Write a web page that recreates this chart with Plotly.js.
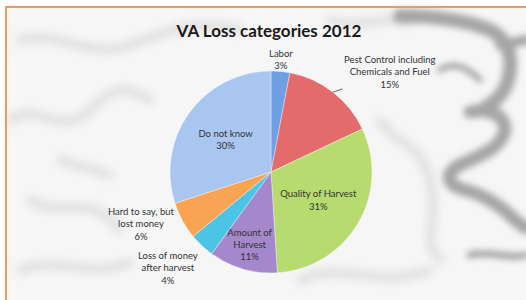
<!DOCTYPE html>
<html>
<head>
<meta charset="utf-8">
<script src="https://cdn.plot.ly/plotly-3.0.1.min.js"></script>
<style>html,body{margin:0;padding:0;background:#fff;}#chart{width:526px;height:300px;}</style>
</head>
<body>
<div id="chart"></div>
<script>
// Data (clockwise from 12 o'clock)
const categories = [
  "Labor",
  "Pest Control including<br>Chemicals and Fuel",
  "Quality of Harvest",
  "Amount of<br>Harvest",
  "Loss of money<br>after harvest",
  "Hard to say, but<br>lost money",
  "Do not know"
];
const shares = [3, 15, 31, 11, 4, 6, 30];
const sliceColors = ["#6FA0E6", "#E36B6C", "#B7DB6E", "#A488CB", "#4CC4E6", "#F8A453", "#A9C6F0"];
const labelInside = [false, false, true, true, false, false, true];
const chartTitle = "VA Loss categories 2012";

// Label layout (styling): pixel offset of each outside label from its slice's rim midpoint
const outsideOffsets = { 0: [0, -12], 1: [57, -20], 4: [-34, 22], 5: [-41, 3] };
const leaderLine = { 1: true };

// Background texture (decoration only)
const bgSvg = `<svg xmlns="http://www.w3.org/2000/svg" width="526" height="300" viewBox="0 0 526 300">
<defs><filter id="b" x="-20%" y="-20%" width="140%" height="140%"><feGaussianBlur stdDeviation="3"/></filter>
<filter id="b2" x="-20%" y="-20%" width="140%" height="140%"><feGaussianBlur stdDeviation="5"/></filter></defs>
<rect x="6" y="7" width="520" height="293" fill="#f6f6f6"/>
<g filter="url(#b2)" fill="none" stroke="#d9d9d9" stroke-width="7" stroke-linecap="round">
<path d="M20 40 C60 30 90 60 130 45 S190 20 240 30"/>
<path d="M10 120 C40 100 60 140 90 110 S130 90 150 100"/>
<path d="M30 200 C60 220 90 190 120 230"/>
<path d="M300 280 C340 260 380 290 430 270"/>
<path d="M380 120 C400 150 420 140 430 180 S420 240 440 260"/>
<path d="M60 160 L110 175"/>
<path d="M330 20 C360 30 380 15 410 22"/>
<path d="M20 270 C60 255 90 280 130 262"/>
</g>
<g filter="url(#b)" fill="none" stroke="#a6a6a6" stroke-linecap="round" stroke-linejoin="round">
<path stroke-width="14" d="M400 16 C440 16 470 22 490 30 C505 38 512 50 510 70 C508 90 498 100 485 108"/>
<path stroke-width="10" d="M500 45 L526 40"/>
<path stroke-width="13" d="M470 112 C490 108 505 115 505 130 C500 150 480 155 460 165 C445 172 445 185 465 190 C485 195 500 205 515 220 L526 228"/>
<path stroke-width="6" d="M440 70 C455 60 470 70 480 80"/>
<path stroke-width="7" d="M470 255 C490 250 510 260 526 255"/>
</g>
<path d="M6 300 L6 7 L526 7" fill="none" stroke="#F39A52" stroke-width="2"/>
</svg>`;
const bgUri = "data:image/svg+xml;charset=utf-8," + encodeURIComponent(bgSvg);

const W = 526, H = 300;
const cx = 271, cy = 172, r = 101;
const fontFam = "Lato, 'Open Sans', sans-serif";
const total = shares.reduce((a, b) => a + b, 0);

const trace = {
  type: "pie",
  labels: categories,
  values: shares,
  sort: false,
  direction: "clockwise",
  rotation: 0,
  marker: { colors: sliceColors, line: { color: "rgba(255,255,255,0.6)", width: 0.6 } },
  texttemplate: "%{label}<br>%{percent:.0%}",
  textposition: labelInside.map(v => v ? "inside" : "none"),
  insidetextorientation: "horizontal",
  insidetextfont: { family: fontFam, size: 9.5, color: "#333" },
  hoverinfo: "label+percent",
  showlegend: false,
  domain: { x: [(cx - r) / W, (cx + r) / W], y: [1 - (cy + r) / H, 1 - (cy - r) / H] },
  automargin: false
};

// Outside labels: anchored at the rim midpoint of each slice, computed from the values
const annotations = [];
let cum = 0;
shares.forEach((v, i) => {
  const mid = (cum + v / 2) / total;
  cum += v;
  if (labelInside[i]) return;
  const th = 2 * Math.PI * mid;
  const px = cx + r * Math.sin(th), py = cy - r * Math.cos(th);
  const off = outsideOffsets[i] || [0, 0];
  const txt = categories[i] + "<br>" + Math.round(100 * v / total) + "%";
  const a = {
    xref: "paper", yref: "paper",
    x: px / W, y: 1 - py / H,
    text: txt, align: "center",
    font: { family: fontFam, size: 9.5, color: "#333" }
  };
  if (leaderLine[i]) {
    Object.assign(a, { showarrow: true, arrowhead: 0, arrowwidth: 0.8, arrowcolor: "#444",
      axref: "pixel", ayref: "pixel", ax: off[0], ay: off[1], standoff: 0 });
  } else {
    Object.assign(a, { showarrow: false, xanchor: "center", yanchor: "middle",
      xshift: off[0], yshift: -off[1] });
  }
  annotations.push(a);
});

const layout = {
  width: W, height: H,
  margin: { l: 0, r: 0, t: 0, b: 0 },
  paper_bgcolor: "#ffffff",
  showlegend: false,
  uniformtext: { minsize: 9.5, mode: "show" },
  title: {
    text: "<b>" + chartTitle + "</b>",
    x: 269 / W, xanchor: "center",
    y: 1 - 31 / H, yanchor: "middle",
    font: { family: fontFam, size: 17, color: "#1a1a1a" }
  },
  annotations: annotations,
  images: [{
    source: bgUri, xref: "paper", yref: "paper",
    x: 0, y: 1, sizex: 1, sizey: 1, xanchor: "left", yanchor: "top",
    sizing: "stretch", layer: "below"
  }]
};

Plotly.newPlot("chart", [trace], layout, { displayModeBar: false, staticPlot: true });
</script>
</body>
</html>
